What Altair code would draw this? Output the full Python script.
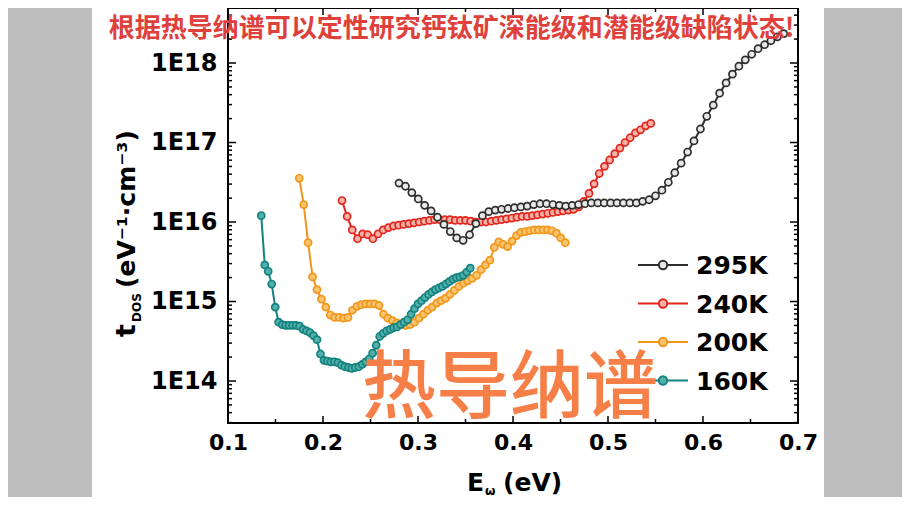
import altair as alt
import pandas as pd

# ---------------- data ----------------
series = ["295K", "240K", "200K", "160K"]
stroke_colors = ["#2e2e2e", "#e2251d", "#f2961b", "#14827f"]
fill_colors = ["#e8e8e8", "#f7b2a8", "#f9c46e", "#52b0ab"]

# E_omega (eV)
x_295 = [0.2800, 0.2868, 0.2935, 0.3003, 0.3070, 0.3138, 0.3205, 0.3273, 0.3340, 0.3408,
         0.3475, 0.3543, 0.3610, 0.3678, 0.3745, 0.3813, 0.3880, 0.3948, 0.4015, 0.4083,
         0.4150, 0.4218, 0.4285, 0.4353, 0.4420, 0.4488, 0.4555, 0.4623, 0.4690, 0.4758,
         0.4825, 0.4893, 0.4960, 0.5028, 0.5095, 0.5163, 0.5230, 0.5298, 0.5365, 0.5433,
         0.5500, 0.5568, 0.5635, 0.5703, 0.5770, 0.5838, 0.5905, 0.5973, 0.6040, 0.6108,
         0.6175, 0.6243, 0.6310, 0.6378, 0.6445, 0.6513, 0.6580, 0.6648, 0.6715, 0.6783,
         0.6850]
# log10 of t_DOS
t_295 = [16.49, 16.45, 16.37, 16.29, 16.21, 16.14, 16.06, 15.97, 15.88, 15.80,
         15.77, 15.84, 15.98, 16.08, 16.13, 16.15, 16.16, 16.17, 16.18, 16.19,
         16.20, 16.22, 16.23, 16.23, 16.22, 16.21, 16.20, 16.21, 16.22, 16.23,
         16.24, 16.24, 16.24, 16.24, 16.24, 16.24, 16.24, 16.24, 16.26, 16.28,
         16.33, 16.40, 16.50, 16.62, 16.74, 16.88, 17.02, 17.17, 17.33, 17.47,
         17.62, 17.75, 17.86, 17.96, 18.04, 18.11, 18.18, 18.23, 18.28, 18.33,
         18.37]

x_240 = [0.2200, 0.2254, 0.2308, 0.2363, 0.2417, 0.2471, 0.2525, 0.2579, 0.2633, 0.2688,
         0.2742, 0.2796, 0.2850, 0.2904, 0.2958, 0.3013, 0.3067, 0.3121, 0.3175, 0.3229,
         0.3283, 0.3338, 0.3392, 0.3446, 0.3500, 0.3554, 0.3608, 0.3663, 0.3717, 0.3771,
         0.3825, 0.3879, 0.3933, 0.3988, 0.4042, 0.4096, 0.4150, 0.4204, 0.4258, 0.4313,
         0.4367, 0.4421, 0.4475, 0.4529, 0.4583, 0.4638, 0.4692, 0.4746, 0.4800, 0.4854,
         0.4908, 0.4963, 0.5017, 0.5071, 0.5125, 0.5179, 0.5233, 0.5288, 0.5342, 0.5396,
         0.5450]
t_240 = [16.27, 16.07, 15.90, 15.79, 15.85, 15.84, 15.79, 15.85, 15.90, 15.93,
         15.95, 15.96, 15.97, 15.98, 15.99, 16.00, 16.01, 16.02, 16.03, 16.03,
         16.03, 16.03, 16.02, 16.02, 16.02, 16.01, 16.00, 16.00, 16.00, 16.01,
         16.02, 16.03, 16.04, 16.05, 16.06, 16.07, 16.07, 16.08, 16.09, 16.10,
         16.11, 16.12, 16.13, 16.14, 16.15, 16.16, 16.19, 16.26, 16.36, 16.48,
         16.61, 16.70, 16.78, 16.86, 16.93, 17.00, 17.06, 17.12, 17.16, 17.21,
         17.24]

x_200 = [0.1750, 0.1797, 0.1843, 0.1890, 0.1937, 0.1983, 0.2030, 0.2077, 0.2123, 0.2170,
         0.2217, 0.2263, 0.2310, 0.2357, 0.2403, 0.2450, 0.2497, 0.2543, 0.2590, 0.2637,
         0.2683, 0.2730, 0.2777, 0.2823, 0.2870, 0.2917, 0.2963, 0.3010, 0.3057, 0.3103,
         0.3150, 0.3197, 0.3243, 0.3290, 0.3337, 0.3383, 0.3430, 0.3477, 0.3523, 0.3570,
         0.3617, 0.3663, 0.3710, 0.3757, 0.3803, 0.3850, 0.3897, 0.3943, 0.3990, 0.4037,
         0.4083, 0.4130, 0.4177, 0.4223, 0.4270, 0.4317, 0.4363, 0.4410, 0.4457, 0.4503,
         0.4550]
t_200 = [16.55, 16.22, 15.74, 15.31, 15.15, 15.03, 14.93, 14.83, 14.80, 14.80,
         14.79, 14.80, 14.89, 14.94, 14.96, 14.97, 14.97, 14.97, 14.95, 14.84,
         14.79, 14.76, 14.73, 14.72, 14.70, 14.71, 14.74, 14.79, 14.84, 14.89,
         14.93, 14.98, 15.01, 15.04, 15.09, 15.14, 15.19, 15.23, 15.26, 15.29,
         15.33, 15.40, 15.46, 15.52, 15.68, 15.75, 15.72, 15.69, 15.76, 15.83,
         15.87, 15.88, 15.89, 15.90, 15.90, 15.90, 15.90, 15.89, 15.86, 15.80,
         15.74]

x_160 = [0.1350, 0.1387, 0.1423, 0.1460, 0.1497, 0.1533, 0.1570, 0.1607, 0.1643, 0.1680,
         0.1717, 0.1753, 0.1790, 0.1827, 0.1863, 0.1900, 0.1937, 0.1973, 0.2010, 0.2047,
         0.2083, 0.2120, 0.2157, 0.2193, 0.2230, 0.2267, 0.2303, 0.2340, 0.2377, 0.2413,
         0.2450, 0.2487, 0.2523, 0.2560, 0.2597, 0.2633, 0.2670, 0.2707, 0.2743, 0.2780,
         0.2817, 0.2853, 0.2890, 0.2927, 0.2963, 0.3000, 0.3037, 0.3073, 0.3110, 0.3147,
         0.3183, 0.3220, 0.3257, 0.3293, 0.3330, 0.3367, 0.3403, 0.3440, 0.3477, 0.3513,
         0.3550]
t_160 = [16.08, 15.46, 15.38, 15.22, 14.93, 14.74, 14.71, 14.70, 14.70, 14.70,
         14.70, 14.69, 14.65, 14.63, 14.61, 14.57, 14.52, 14.34, 14.26, 14.25,
         14.24, 14.24, 14.23, 14.20, 14.18, 14.17, 14.16, 14.17, 14.18, 14.21,
         14.24, 14.28, 14.35, 14.45, 14.56, 14.60, 14.63, 14.65, 14.67, 14.68,
         14.71, 14.74, 14.77, 14.84, 14.91, 14.97, 15.01, 15.05, 15.09, 15.12,
         15.15, 15.17, 15.19, 15.22, 15.25, 15.28, 15.30, 15.31, 15.33, 15.37,
         15.42]

x_ticks = [0.1, 0.2, 0.3, 0.4, 0.5, 0.6, 0.7]
x_major_inner = [0.2, 0.3, 0.4, 0.5, 0.6]
x_minor = [0.15, 0.25, 0.35, 0.45, 0.55, 0.65]
y_ticks = [1e14, 1e15, 1e16, 1e17, 1e18]
y_minor = [3e13, 4e13, 5e13, 6e13, 7e13, 8e13, 9e13,
           2e14, 3e14, 4e14, 5e14, 6e14, 7e14, 8e14, 9e14,
           2e15, 3e15, 4e15, 5e15, 6e15, 7e15, 8e15, 9e15,
           2e16, 3e16, 4e16, 5e16, 6e16, 7e16, 8e16, 9e16,
           2e17, 3e17, 4e17, 5e17, 6e17, 7e17, 8e17, 9e17,
           2e18, 3e18, 4e18]

title_text = "根据热导纳谱可以定性研究钙钛矿深能级和潜能级缺陷状态!"
stamp_text = "热导纳谱"

# ---------------- table ----------------
rows = []
for name, xs, ls in [("200K", x_200, t_200), ("160K", x_160, t_160),
                     ("240K", x_240, t_240), ("295K", x_295, t_295)]:
    for xv, lv in zip(xs, ls):
        rows.append({"series": name, "E": xv, "tdos": 10 ** lv})
df = pd.DataFrame(rows)
one = pd.DataFrame({"k": [0]})
xmaj = pd.DataFrame({"E": x_major_inner})
xmin = pd.DataFrame({"E": x_minor})
ymaj = pd.DataFrame({"tdos": y_ticks})
ymin = pd.DataFrame({"tdos": y_minor})

W, H = 570, 415
xscale = alt.Scale(domain=[0.1, 0.7], nice=False, zero=False)
yscale = alt.Scale(type="log", domain=[10 ** 13.472, 10 ** 18.692], nice=False)
color_scale = alt.Scale(domain=series, range=stroke_colors)
fill_scale = alt.Scale(domain=series, range=fill_colors)
FONT = "DejaVu Sans"

x_label_axis = alt.Axis(orient="bottom", values=x_ticks, format=".1f", ticks=False,
                        tickSize=0, labelFont=FONT, labelFontWeight="bold",
                        labelFontSize=22, labelColor="black", labelPadding=9,
                        labelFlush=False, domain=False, grid=False, title=None)
y_label_axis = alt.Axis(orient="left", values=y_ticks, ticks=False, tickSize=0,
                        labelExpr="'1E' + round(log(datum.value) / LN10)",
                        labelFont=FONT, labelFontWeight="bold", labelFontSize=24,
                        labelColor="black", labelPadding=11, domain=False,
                        grid=False, title=None)

lines = alt.Chart(df).mark_line(strokeWidth=2).encode(
    x=alt.X("E:Q", scale=xscale, axis=x_label_axis),
    y=alt.Y("tdos:Q", scale=yscale, axis=y_label_axis),
    color=alt.Color("series:N", scale=color_scale, legend=None),
    detail="series:N",
)

points = alt.Chart(df).mark_point(filled=False, size=50, strokeWidth=1.7, opacity=1).encode(
    x=alt.X("E:Q", scale=xscale),
    y=alt.Y("tdos:Q", scale=yscale),
    stroke=alt.Stroke("series:N", scale=color_scale, legend=None),
    fill=alt.Fill("series:N", scale=fill_scale, legend=None),
)


# inward ticks on all four sides of the frame
def xrule(d, y0, y1):
    return alt.Chart(d).mark_rule(color="black", strokeWidth=1.5).encode(
        x=alt.X("E:Q", scale=xscale), y=alt.value(y0), y2=alt.value(y1))


def yrule(d, x0, x1):
    return alt.Chart(d).mark_rule(color="black", strokeWidth=1.5).encode(
        y=alt.Y("tdos:Q", scale=yscale), x=alt.value(x0), x2=alt.value(x1))


ticks = [
    xrule(xmaj, H - 7, H), xrule(xmaj, 0, 7),
    xrule(xmin, H - 4, H), xrule(xmin, 0, 4),
    yrule(ymaj, 0, 8), yrule(ymaj, W - 8, W),
    yrule(ymin, 0, 4), yrule(ymin, W - 4, W),
]

# blurred grey bands at the sides of the video frame
side_l = alt.Chart(one).mark_rect(color="#bdbdbd").encode(
    x=alt.value(-240), x2=alt.value(-136), y=alt.value(-10), y2=alt.value(510))
side_r = alt.Chart(one).mark_rect(color="#bdbdbd").encode(
    x=alt.value(596), x2=alt.value(700), y=alt.value(-10), y2=alt.value(510))


def text(t, x, y, size, color="black", weight="bold", font=FONT, angle=0,
         align="left", baseline="alphabetic"):
    return alt.Chart(one).mark_text(text=t, font=font, fontSize=size, fontWeight=weight,
                                    color=color, angle=angle, align=align,
                                    baseline=baseline).encode(
        x=alt.value(x), y=alt.value(y))


# legend (line + marker + label for each series)
legend_layers = []
for i, name in enumerate(series):
    ld = pd.DataFrame({"series": [name]})
    yc = 257 + 38.5 * i
    legend_layers.append(alt.Chart(ld).mark_rule(strokeWidth=2).encode(
        x=alt.value(410), x2=alt.value(460), y=alt.value(yc),
        color=alt.Color("series:N", scale=color_scale, legend=None)))
    legend_layers.append(alt.Chart(ld).mark_point(filled=False, size=70, strokeWidth=2,
                                                  opacity=1).encode(
        x=alt.value(435), y=alt.value(yc),
        stroke=alt.Stroke("series:N", scale=color_scale, legend=None),
        fill=alt.Fill("series:N", scale=fill_scale, legend=None)))
    legend_layers.append(text(name, 468, yc + 1, 25, baseline="middle"))

y_title = [
    text("t", -93, 329, 27, angle=270),
    text("DOS", -87, 314, 12, angle=270),
    text("(eV⁻¹·cm⁻³)", -93, 280, 25, angle=270),
]
x_title = [
    text("E", 239, 483, 25),
    text("ω", 257, 487, 12),
    text("(eV)", 275, 483, 25),
]
title = text(title_text, 223.5, 21, 26, color="#e0403c", font="Noto Sans CJK SC",
             align="center", baseline="middle")
stamp = text(stamp_text, 282, 382, 74, color="#f57f47", weight=500,
             font="Noto Sans CJK SC", align="center", baseline="middle")

chart = alt.layer(
    side_l, side_r, lines, *ticks, points, *legend_layers, *y_title, *x_title,
    title, stamp
).properties(
    width=W, height=H,
    padding={"left": 220, "top": 0, "right": 104, "bottom": 74},
    autosize=alt.AutoSizeParams(type="none"),
    background="white",
).configure_view(stroke="black", strokeWidth=2)

chart.save("out.html", embed_options={"renderer": "svg", "actions": False})
